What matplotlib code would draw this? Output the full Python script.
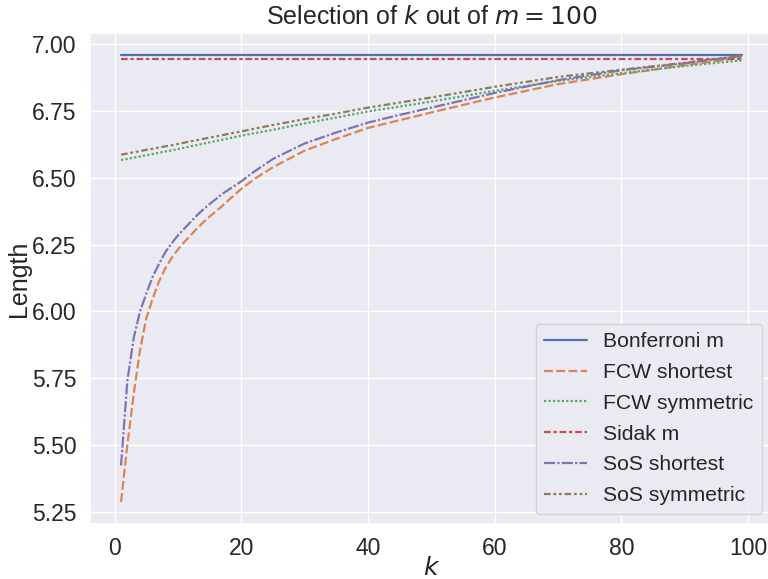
import numpy as np
import matplotlib
matplotlib.use("Agg")
import matplotlib.pyplot as plt
import seaborn as sns

# k values at which the curves were read
k = [1, 2, 3, 4, 5, 6, 7, 8, 9, 10, 11, 12, 13, 14, 15, 16, 17, 18, 20, 22, 25, 30, 35, 40, 45, 50,
     60, 70, 80, 90, 99]

bonferroni_m = [6.960] * 31
sidak_m = [6.945] * 31
fcw_shortest = [5.286, 5.50, 5.69, 5.855, 5.975, 6.048, 6.112, 6.162, 6.200, 6.232, 6.260, 6.285,
                6.310, 6.334, 6.355, 6.375, 6.395, 6.417, 6.459, 6.495, 6.540, 6.602, 6.646, 6.687,
                6.716, 6.745, 6.801, 6.851, 6.888, 6.922, 6.950]
fcw_symmetric = [6.567, 6.571, 6.576, 6.580, 6.585, 6.589, 6.594, 6.599, 6.603, 6.608, 6.613, 6.618,
                 6.623, 6.628, 6.633, 6.638, 6.643, 6.648, 6.658, 6.667, 6.680, 6.704, 6.726, 6.749,
                 6.767, 6.786, 6.826, 6.863, 6.892, 6.919, 6.940]
sos_shortest = [5.423, 5.74, 5.90, 6.00, 6.067, 6.13, 6.178, 6.222, 6.255, 6.285, 6.310, 6.335,
                6.360, 6.382, 6.402, 6.421, 6.440, 6.456, 6.487, 6.523, 6.571, 6.629, 6.670, 6.707,
                6.736, 6.763, 6.818, 6.866, 6.903, 6.929, 6.957]
sos_symmetric = [6.587, 6.591, 6.596, 6.600, 6.605, 6.609, 6.614, 6.618, 6.622, 6.627, 6.632, 6.637,
                 6.641, 6.646, 6.651, 6.655, 6.660, 6.665, 6.674, 6.684, 6.698, 6.720, 6.741, 6.763,
                 6.782, 6.801, 6.841, 6.878, 6.905, 6.931, 6.957]

labels = ["Bonferroni m", "FCW shortest", "FCW symmetric", "Sidak m", "SoS shortest", "SoS symmetric"]
series = [bonferroni_m, fcw_shortest, fcw_symmetric, sidak_m, sos_shortest, sos_symmetric]

sns.set_theme(font_scale=1.5)
plt.rcParams['font.family'] = ['Liberation Sans', 'DejaVu Sans']

colors = sns.color_palette("deep")
dash_specs = ["", (4, 1.5), (1, 1), (3, 1.25, 1.5, 1.25), (5, 1, 1, 1), (3, 1.25, 1.25, 1.25, 1.25, 1.25)]

fig = plt.figure(figsize=(7.68, 5.79), dpi=100)
ax = fig.add_axes([90 / 768, 54.7 / 579, 682.7 / 768, 491.6 / 579])

for lab, ys, c, d in zip(labels, series, colors, dash_specs):
    line, = ax.plot(k, ys, color=c, lw=1.6, label=lab)
    if d:
        line.set_dashes(d)

ax.set_title("Selection of $k$ out of $m = 100$")
ax.set_xlabel("$k$", labelpad=-3)
ax.set_ylabel("Length", labelpad=1)
ax.set_xticks([0, 20, 40, 60, 80, 100])
ax.set_yticks([5.25, 5.50, 5.75, 6.00, 6.25, 6.50, 6.75, 7.00])
ax.yaxis.set_major_formatter(matplotlib.ticker.FormatStrFormatter("%.2f"))
ax.legend(loc="lower right", fontsize=15.2, labelspacing=0.56)

fig.savefig("out.png", dpi=100)
